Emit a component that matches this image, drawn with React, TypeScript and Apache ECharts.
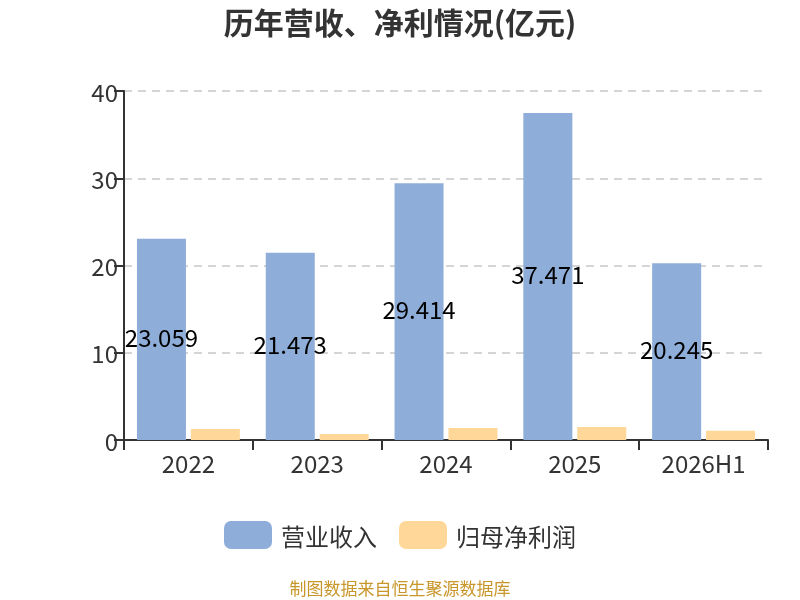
import { useEffect, useRef } from 'react'
import * as echarts from 'echarts'

const categories = ['2022', '2023', '2024', '2025', '2026H1']
const revenue = [23.059, 21.473, 29.414, 37.471, 20.245]
const netProfit = [1.26, 0.69, 1.37, 1.49, 1.07]
const yTicks = { min: 0, max: 40, interval: 10 }

const FONT = '"Noto Sans CJK SC", "Noto Sans", sans-serif'

export default function App() {
  const elRef = useRef<HTMLDivElement>(null)

  useEffect(() => {
    if (!elRef.current) return
    const chart = echarts.init(elRef.current, undefined, { renderer: 'svg' })
    chart.setOption({
      animation: false,
      textStyle: { fontFamily: FONT },
      title: {
        text: '历年营收、净利情况(亿元)',
        left: 'center',
        top: 1,
        textStyle: { fontSize: 30, fontWeight: 'bold', color: '#333', fontFamily: FONT },
      },
      legend: {
        top: 516,
        left: 'center',
        itemWidth: 48,
        itemHeight: 28,
        itemGap: 22,
        icon: 'roundRect',
        textStyle: { fontSize: 24, color: '#333', fontFamily: FONT, padding: [0, 0, 0, 4] },
        data: ['营业收入', '归母净利润'],
      },
      graphic: [
        {
          type: 'text',
          left: 'center',
          top: 577,
          style: {
            text: '制图数据来自恒生聚源数据库',
            fill: '#c8962a',
            fontSize: 17,
            lineHeight: 20,
            fontFamily: FONT,
          },
        },
      ],
      grid: { left: 124, right: 32, top: 91, bottom: 160 },
      xAxis: {
        type: 'category',
        data: categories,
        axisLine: { lineStyle: { color: '#333', width: 2 } },
        axisTick: { show: true, length: 10, lineStyle: { color: '#333', width: 2 } },
        axisLabel: { fontSize: 24, color: '#333', margin: 10 },
      },
      yAxis: {
        type: 'value',
        ...yTicks,
        axisLine: { show: true, lineStyle: { color: '#333', width: 2 } },
        axisTick: { show: true, length: 10, lineStyle: { color: '#333', width: 2 } },
        axisLabel: { fontSize: 24, color: '#333', margin: 6 },
        splitLine: { lineStyle: { color: '#c8c8c8', type: [8, 6], width: 1.5 } },
      },
      series: [
        {
          name: '营业收入',
          type: 'bar',
          data: revenue,
          barWidth: 49,
          barGap: '10%',
          itemStyle: { color: '#8eadd9' },
          label: {
            show: true,
            position: 'inside',
            offset: [0, -3],
            fontSize: 24,
            color: '#000',
            fontFamily: FONT,
          },
        },
        {
          name: '归母净利润',
          type: 'bar',
          data: netProfit,
          barWidth: 49,
          itemStyle: { color: '#ffd799' },
        },
      ],
    })
    return () => chart.dispose()
  }, [])

  return (
    <div
      ref={elRef}
      style={{ position: 'fixed', left: 0, top: 0, width: 800, height: 600 }}
    />
  )
}
